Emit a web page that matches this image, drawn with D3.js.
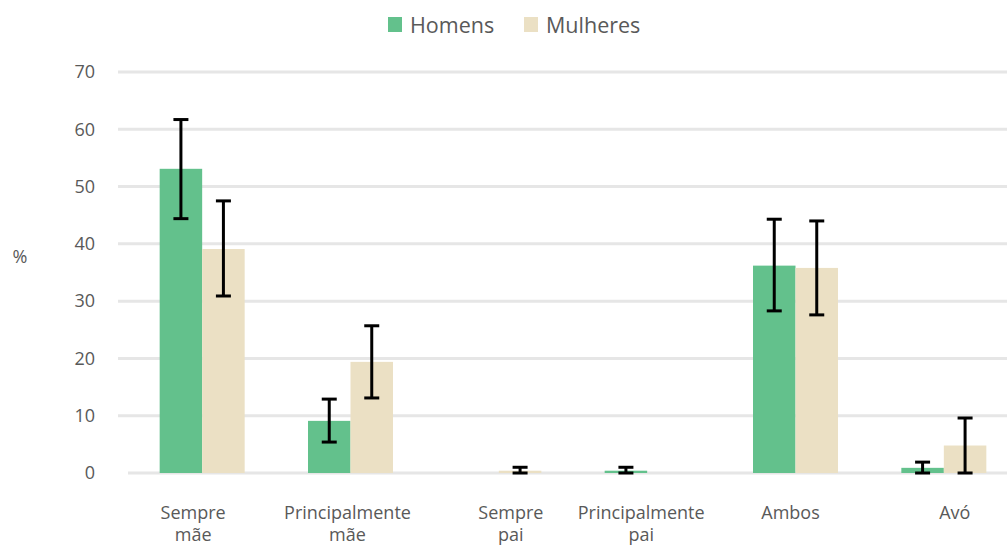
<!DOCTYPE html>
<html>
<head>
<meta charset="utf-8">
<script src="https://cdn.jsdelivr.net/npm/d3@7"></script>
<style>
  body { margin: 0; background: #fff; }
  text { font-family: "Open Sans", sans-serif; fill: #595959; }
</style>
</head>
<body>
<div id="chart"></div>
<script>
const categories = [["Sempre", "mãe"], ["Principalmente", "mãe"], ["Sempre", "pai"], ["Principalmente", "pai"], ["Ambos"], ["Avó"]];
const seriesNames = ["Homens", "Mulheres"];
const seriesColors = ["#63c18c", "#ebe0c4"];
const homens = [53.1, 9.1, 0, 0.4, 36.2, 0.9];
const homensLow = [44.4, 5.4, null, 0, 28.3, 0];
const homensHigh = [61.7, 12.9, null, 1.0, 44.3, 1.9];
const mulheres = [39.1, 19.4, 0.4, 0, 35.8, 4.8];
const mulheresLow = [30.9, 13.1, 0, null, 27.6, 0];
const mulheresHigh = [47.5, 25.7, 1.0, null, 44.0, 9.6];
const yTicks = [0, 10, 20, 30, 40, 50, 60, 70];

// the source nudges its category labels a little off the band centres
const labelShift = [-9, -3, 12, -6, -5, 11];

const width = 1007, height = 545;
const svg = d3.select("#chart").append("svg")
    .attr("width", width)
    .attr("height", height);

const x = d3.scaleBand().domain(d3.range(categories.length))
    .range([128, 1018]).paddingInner(0.427).paddingOuter(0.2135);
const xs = d3.scaleBand().domain(seriesNames).range([0, x.bandwidth()]);
const y = d3.scaleLinear().domain([0, 70]).range([473, 72]);

// gridlines
svg.append("g").selectAll("line").data(yTicks).join("line")
    .attr("x1", d => d === 0 ? 128 : 118).attr("x2", width)
    .attr("y1", d => y(d)).attr("y2", d => y(d))
    .attr("stroke", "#e6e6e6").attr("stroke-width", 3);

// y axis labels
svg.append("g").selectAll("text").data(yTicks).join("text")
    .attr("x", 95).attr("y", d => y(d)).attr("dy", "0.35em")
    .attr("text-anchor", "end").style("font-size", "18px")
    .text(d => d);

svg.append("text").attr("x", 20).attr("y", 257).attr("dy", "0.35em")
    .attr("text-anchor", "middle").style("font-size", "18px").text("%");

const series = [
  { name: "Homens", values: homens, low: homensLow, high: homensHigh },
  { name: "Mulheres", values: mulheres, low: mulheresLow, high: mulheresHigh }
];

series.forEach((s, si) => {
  const g = svg.append("g");
  g.selectAll("rect").data(s.values).join("rect")
    .attr("x", (d, i) => x(i) + xs(s.name))
    .attr("width", xs.bandwidth())
    .attr("y", d => y(d))
    .attr("height", d => y(0) - y(d))
    .attr("fill", seriesColors[si]);

  const errs = s.values.map((d, i) => ({ i, lo: s.low[i], hi: s.high[i] }))
    .filter(e => e.lo !== null);
  const eg = g.selectAll("g.err").data(errs).join("g").attr("class", "err")
    .attr("transform", e => `translate(${x(e.i) + xs(s.name) + xs.bandwidth() / 2},0)`);
  eg.append("line").attr("y1", e => y(e.lo)).attr("y2", e => y(e.hi))
    .attr("stroke", "#000").attr("stroke-width", 3);
  eg.append("line").attr("x1", -7.5).attr("x2", 7.5)
    .attr("y1", e => y(e.lo)).attr("y2", e => y(e.lo))
    .attr("stroke", "#000").attr("stroke-width", 3);
  eg.append("line").attr("x1", -7.5).attr("x2", 7.5)
    .attr("y1", e => y(e.hi)).attr("y2", e => y(e.hi))
    .attr("stroke", "#000").attr("stroke-width", 3);
});

// x labels
const xl = svg.append("g").selectAll("text").data(categories).join("text")
    .attr("x", (d, i) => x(i) + x.bandwidth() / 2 + labelShift[i])
    .attr("y", 519)
    .attr("text-anchor", "middle").style("font-size", "18px");
xl.selectAll("tspan").data(d => d).join("tspan")
    .attr("x", function () { return d3.select(this.parentNode).attr("x"); })
    .attr("dy", (d, j) => j === 0 ? 0 : 22)
    .text(d => d);

// legend
const legendX = [388, 524];
const lg = svg.append("g").selectAll("g").data(seriesNames).join("g")
    .attr("transform", (d, i) => `translate(${legendX[i]},17)`);
lg.append("rect").attr("width", 14).attr("height", 15)
    .attr("fill", (d, i) => seriesColors[i]);
lg.append("text").attr("x", 22).attr("y", 8).attr("dy", "0.35em")
    .style("font-size", "21.5px").text(d => d);
</script>
</body>
</html>
